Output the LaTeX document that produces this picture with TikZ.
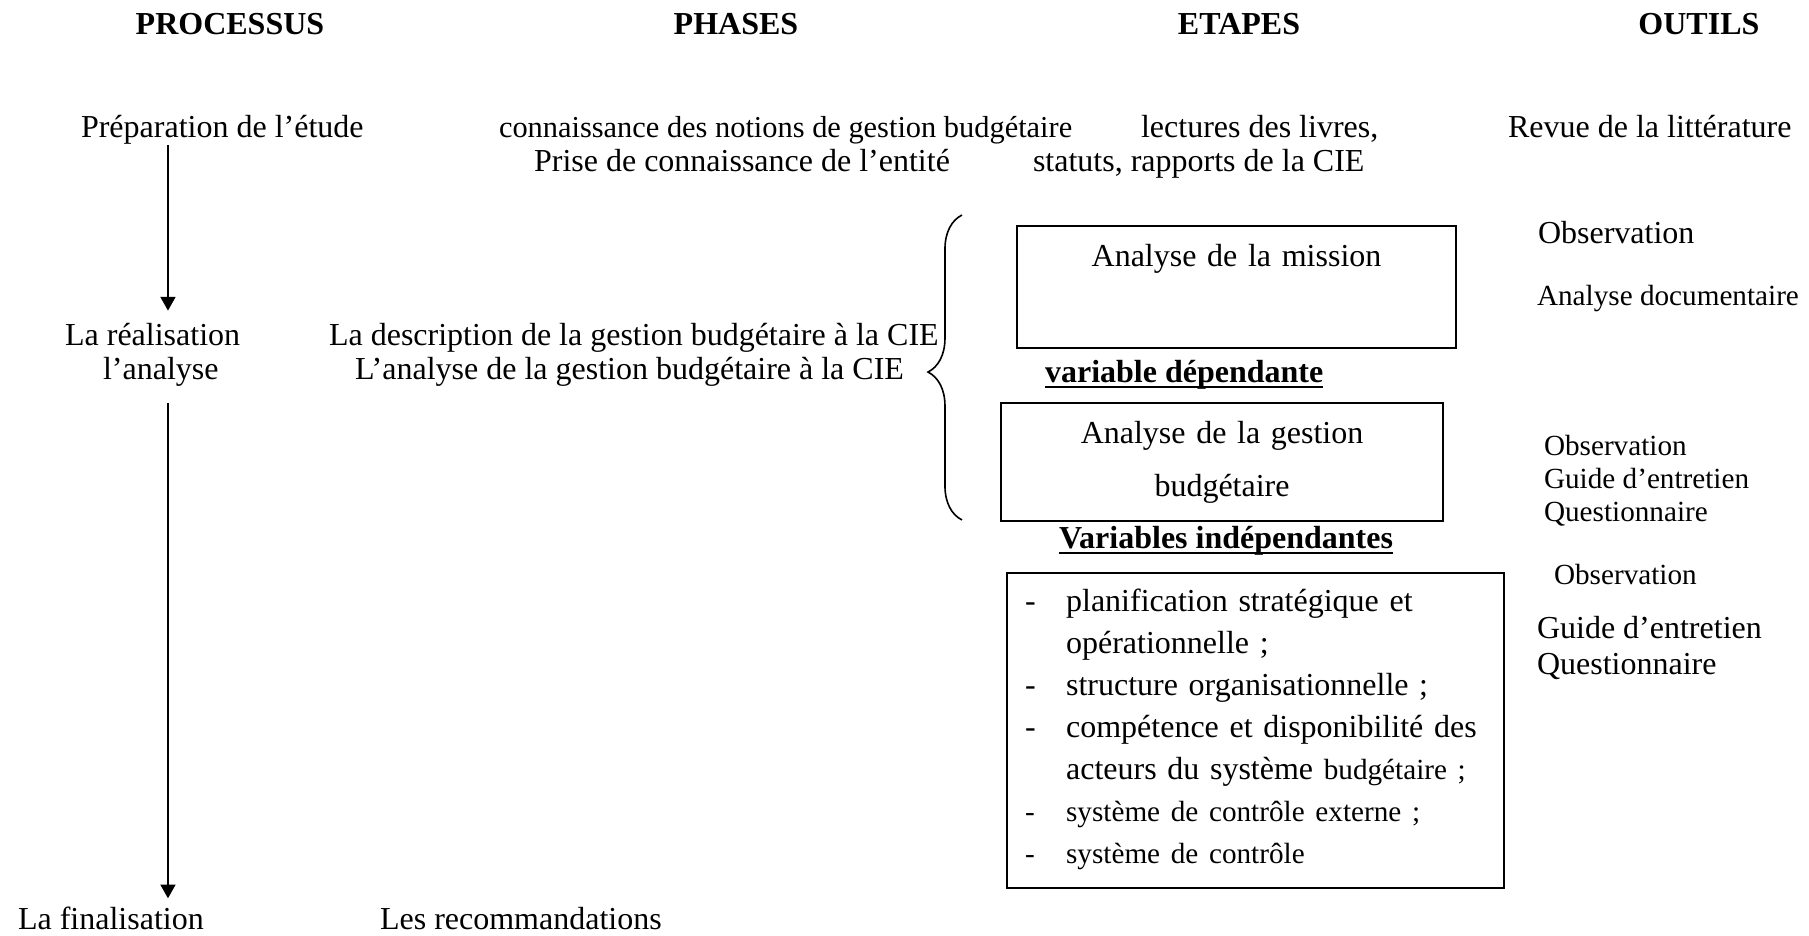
\documentclass[12pt,tikz,border=0pt]{standalone}
\usepackage{fontspec}
\setmainfont{Liberation Serif}
\usetikzlibrary{arrows.meta}
\usetikzlibrary{decorations.pathreplacing}

\tikzset{
  txt/.style={inner sep=0pt, anchor=base west},
  titre/.style={inner sep=0pt, anchor=base, font=\bfseries},
  cadre/.style={draw, inner sep=0pt, anchor=north west},
  accolade/.style={decorate, decoration={brace, amplitude=12.75pt, aspect=0.485}, line width=0.6pt},
}
\renewcommand{\arraystretch}{1.086}
\newcommand{\souligne}[1]{\setbox0\hbox{#1}\rlap{\rule[-2.4pt]{\wd0}{0.9pt}}\box0}

\begin{document}
\begin{tikzpicture}[>={Triangle[width=5.6pt,length=5.2pt]}, line width=0.8pt]
    \useasboundingbox (0, 0) rectangle (23.843, -12.336);

    \path (3.031, -0.461) node [titre] (proc) {PROCESSUS};
    \path (9.700, -0.461) node [titre] (phas) {PHASES};
    \path (16.330, -0.461) node [titre] (etap) {ETAPES};
    \path (22.392, -0.461) node [titre] (outi) {OUTILS};

    \path (1.054, -1.806) node [txt] (prep) {Préparation de l’étude};
    \path (6.563, -1.806) node [txt, font=\fontsize{11.4pt}{13.7pt}\selectfont] (conn)
        {connaissance des notions de gestion budgétaire};
    \path (7.025, -2.267) node [txt] (prise) {Prise de connaissance de l’entité};
    \path (15.025, -1.806) node [txt] (lect) {lectures des livres,};
    \path (13.601, -2.267) node [txt] (stat) {statuts, rapports de la CIE};
    \path (19.862, -1.806) node [txt] (revu) {Revue de la littérature};

    \path (0.844, -4.560) node [txt] (real) {La réalisation};
    \path (1.344, -5.008) node [txt] (ana) {l’analyse};
    \path (4.323, -4.560) node [txt] (desc) {La description de la gestion budgétaire à la CIE};
    \path (4.666, -5.008) node [txt] (anag) {L’analyse de la gestion budgétaire à la CIE};

    \path (0.224, -12.257) node [txt] (fin) {La finalisation};
    \path (4.995, -12.257) node [txt] (reco) {Les recommandations};

    \coordinate (axe) at (2.214, 0);
    \draw [->] (prep.south -| axe) -- (real.north -| axe) [shorten >=4.5pt];
    \draw [->, shorten <=5.6pt, shorten >=3pt] (ana.south -| axe) -- (fin.north -| axe);

    \draw [accolade] (12.679, -6.853) -- (12.679, -2.834);

    \path (13.391, -2.965) node [cadre, text width=164.6pt, align=center,
        text height=15pt, text depth=30.75pt] (miss) {Analyse de la mission};
    \path (13.760, -5.035) node [txt, font=\bfseries] (vdep) {\souligne{variable dépendante}};
    \path (13.180, -5.298) node [cadre, text width=165.75pt, align=center,
        text height=15pt, text depth=29.25pt] (gest) {Analyse de la gestion\\[5.4pt]budgétaire};
    \path (13.944, -7.223) node [txt, font=\bfseries] (vind) {\souligne{Variables indépendantes}};
    \path (13.259, -7.539) node [cadre, text width=186.4pt, align=left,
        text height=14.25pt, text depth=103.9pt] (fact) {\hspace*{6.75pt}%
        \begin{tabular}[t]{@{}p{15.4pt}@{}l@{}}
        - & planification stratégique et\\
          & opérationnelle ;\\
        - & structure organisationnelle ;\\
        - & compétence et disponibilité des\\
          & acteurs du système {\small budgétaire ;}\\
        {\small -} & {\small système de contrôle externe ;}\\
        {\small -} & {\small système de contrôle}
        \end{tabular}};

    \path (20.257, -3.203) node [txt] (obs1) {Observation};
    \path (20.244, -4.020) node [txt, font=\small] (doc1) {Analyse documentaire};
    \path (20.336, -5.997) node [txt, font=\small] (obs2) {Observation};
    \path (20.336, -6.445) node [txt, font=\small] (gui2) {Guide d’entretien};
    \path (20.336, -6.880) node [txt, font=\small] (que2) {Questionnaire};
    \path (20.468, -7.710) node [txt, font=\small] (obs3) {Observation};
    \path (20.244, -8.409) node [txt] (gui3) {Guide d’entretien};
    \path (20.244, -8.896) node [txt] (que3) {Questionnaire};
\end{tikzpicture}
\end{document}
